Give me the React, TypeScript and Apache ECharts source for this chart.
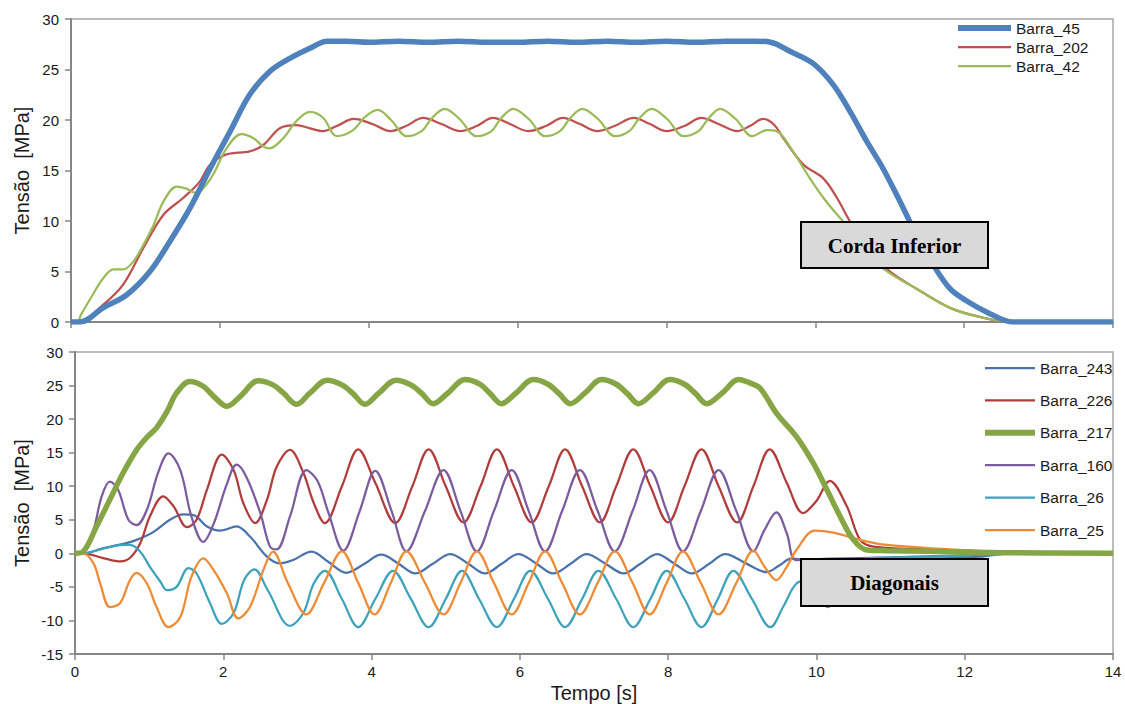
import React, { useEffect, useRef } from "react";
import * as echarts from "echarts";

// ---------- data (t [s], tensão [MPa]) ----------
const xTicks = [0, 2, 4, 6, 8, 10, 12, 14];

const barra45: number[][] = [
  [0, 0], [0.12, 0], [0.43, 1.4], [0.75, 2.7], [1.06, 5.0], [1.33, 8.0], [1.6, 11.3], [1.87, 15.2],
  [2.14, 18.9], [2.4, 22.5], [2.67, 24.8], [2.94, 26.1], [3.21, 27.1], [3.44, 27.8], [3.7, 27.8],
  [4.0, 27.7], [4.4, 27.8], [4.8, 27.7], [5.2, 27.8], [5.6, 27.7], [6.0, 27.7], [6.4, 27.8], [6.8, 27.7],
  [7.2, 27.8], [7.6, 27.7], [8.0, 27.8], [8.4, 27.7], [8.8, 27.8], [9.2, 27.8], [9.4, 27.7], [9.66, 26.8],
  [9.97, 25.6], [10.24, 23.5], [10.47, 20.8], [10.69, 17.9], [10.91, 15.2], [11.14, 11.9], [11.36, 8.6],
  [11.59, 5.6], [11.81, 3.3], [12.03, 2.1], [12.3, 1.0], [12.66, 0], [14, 0],
];

const barra202: number[][] = [
  [0, 0], [0.1, 0], [0.43, 1.7], [0.7, 3.7], [0.97, 7.3], [1.24, 10.6], [1.51, 12.3], [1.73, 13.9],
  [1.87, 15.6], [2.09, 16.6], [2.4, 16.9], [2.58, 17.5], [2.81, 19.2], [3.03, 19.5], [3.2, 19.2],
  [3.39, 18.9], [3.57, 19.4], [3.8, 20.1], [4.05, 19.6], [4.29, 18.9], [4.5, 19.4], [4.73, 20.2],
  [4.98, 19.6], [5.23, 18.9], [5.45, 19.4], [5.67, 20.2], [5.9, 19.6], [6.14, 18.9], [6.38, 19.4],
  [6.61, 20.2], [6.84, 19.6], [7.07, 18.9], [7.3, 19.4], [7.56, 20.2], [7.78, 19.6], [8.0, 18.9],
  [8.24, 19.4], [8.47, 20.2], [8.7, 19.6], [8.95, 18.9], [9.12, 19.4], [9.3, 20.1], [9.45, 19.5],
  [9.57, 18.2], [9.84, 15.6], [10.11, 14.2], [10.29, 12.3], [10.47, 9.9], [10.7, 7.2], [11.0, 5.0],
  [11.36, 3.3], [11.81, 1.4], [12.21, 0.5], [12.62, 0], [14, 0],
];

const barra42: number[][] = [
  [0, 0], [0.08, 0], [0.14, 0.8], [0.26, 2.3], [0.43, 4.3], [0.57, 5.2], [0.7, 5.2], [0.84, 6.0],
  [0.97, 7.6], [1.11, 9.6], [1.24, 11.9], [1.42, 13.4], [1.55, 13.2], [1.67, 12.8], [1.76, 13.1],
  [1.91, 14.6], [2.09, 17.2], [2.29, 18.6], [2.45, 18.2], [2.58, 17.4], [2.67, 17.2], [2.85, 18.2],
  [3.03, 19.9], [3.21, 20.8], [3.39, 20.2], [3.57, 18.4], [3.79, 19.0], [3.95, 20.3], [4.12, 21.0],
  [4.3, 20.0], [4.51, 18.4], [4.71, 18.9], [4.85, 20.2], [5.02, 21.1], [5.22, 20.1], [5.45, 18.4],
  [5.65, 18.9], [5.78, 20.2], [5.94, 21.1], [6.15, 20.1], [6.37, 18.4], [6.57, 18.9], [6.71, 20.2],
  [6.87, 21.1], [7.08, 20.1], [7.31, 18.4], [7.5, 18.9], [7.64, 20.2], [7.8, 21.1], [8.01, 20.1],
  [8.23, 18.4], [8.43, 18.9], [8.57, 20.2], [8.72, 21.1], [8.93, 20.1], [9.15, 18.4], [9.35, 19.0],
  [9.48, 18.9], [9.7, 16.9], [9.93, 14.2], [10.15, 11.9], [10.38, 9.9], [10.65, 7.5], [10.91, 5.3],
  [11.36, 3.3], [11.81, 1.4], [12.21, 0.5], [12.66, 0], [14, 0],
];

const barra243: number[][] = [
  [0, 0], [0.11, 0], [0.38, 0.75], [0.65, 1.4], [0.83, 2.0], [1.06, 3.2], [1.28, 5.0], [1.46, 5.8],
  [1.6, 5.7], [1.78, 4.0], [1.96, 3.4], [2.18, 4.0], [2.36, 2.5], [2.59, -0.5], [2.76, -1.5],
  [2.94, -1.0], [3.19, 0.25], [3.42, -1.3], [3.66, -2.9], [3.9, -1.6], [4.13, -0.2], [4.36, -1.5],
  [4.59, -3.0], [4.82, -1.6], [5.06, -0.1], [5.3, -1.5], [5.53, -3.0], [5.75, -1.6], [5.98, -0.1],
  [6.22, -1.5], [6.45, -3.0], [6.68, -1.6], [6.9, -0.1], [7.15, -1.5], [7.4, -3.0], [7.62, -1.6],
  [7.85, -0.1], [8.08, -1.5], [8.32, -3.0], [8.55, -1.6], [8.77, -0.1], [9.05, -1.5], [9.33, -2.8],
  [9.5, -1.8], [9.66, -0.8], [9.9, -1.0], [10.5, -0.9], [11.5, -0.8], [12.2, -0.5], [12.6, 0], [14, 0],
];

const barra226: number[][] = [
  [0, 0], [0.11, 0], [0.38, -0.7], [0.61, -1.2], [0.74, -0.7], [0.88, 1.5], [1.01, 5.5], [1.19, 8.5],
  [1.33, 7.0], [1.51, 3.9], [1.64, 5.0], [1.78, 9.5], [1.98, 14.7], [2.14, 12.4], [2.27, 7.5],
  [2.43, 4.5], [2.59, 8.0], [2.72, 12.9], [2.9, 15.4], [3.08, 12.0], [3.22, 7.5], [3.37, 4.5],
  [3.6, 10.0], [3.82, 15.5], [4.05, 10.5], [4.32, 4.5], [4.55, 10.0], [4.77, 15.5], [5.0, 10.0],
  [5.24, 4.6], [5.47, 10.0], [5.69, 15.5], [5.92, 10.0], [6.16, 4.6], [6.39, 10.0], [6.61, 15.5],
  [6.84, 10.0], [7.08, 4.6], [7.3, 10.0], [7.53, 15.5], [7.76, 10.0], [8.0, 4.6], [8.22, 10.0],
  [8.45, 15.5], [8.68, 10.0], [8.93, 4.6], [9.15, 10.0], [9.37, 15.5], [9.6, 10.5], [9.82, 6.0],
  [10.0, 7.8], [10.18, 10.8], [10.41, 7.0], [10.59, 2.0], [10.77, 1.0], [11.5, 0.6], [12.5, 0.2],
  [13, 0], [14, 0],
];

const barra217: number[][] = [
  [0, 0], [0.11, 0.25], [0.29, 4.0], [0.47, 8.0], [0.65, 12.0], [0.83, 15.4], [0.97, 17.3],
  [1.1, 18.7], [1.24, 21.1], [1.37, 23.9], [1.55, 25.6], [1.73, 24.9], [1.87, 23.4], [2.05, 21.9],
  [2.23, 23.4], [2.47, 25.7], [2.67, 25.1], [2.81, 23.9], [2.99, 22.2], [3.17, 23.9], [3.4, 25.8],
  [3.6, 25.1], [3.75, 23.8], [3.91, 22.2], [4.1, 23.9], [4.33, 25.8], [4.53, 25.1], [4.68, 23.8],
  [4.83, 22.3], [5.03, 23.9], [5.26, 25.9], [5.46, 25.2], [5.6, 23.8], [5.75, 22.3], [5.95, 23.9],
  [6.18, 25.9], [6.38, 25.2], [6.53, 23.8], [6.68, 22.3], [6.88, 23.9], [7.1, 25.9], [7.3, 25.2],
  [7.45, 23.8], [7.6, 22.3], [7.8, 23.9], [8.02, 25.9], [8.22, 25.2], [8.37, 23.8], [8.52, 22.3],
  [8.73, 23.9], [8.95, 25.9], [9.1, 25.4], [9.24, 24.6], [9.46, 20.9], [9.73, 17.4], [9.96, 13.4],
  [10.14, 9.5], [10.32, 5.5], [10.5, 2.0], [10.68, 0.5], [10.95, 0.4], [11.5, 0.3], [12.5, 0.1],
  [14, 0],
];

const barra160: number[][] = [
  [0, 0], [0.11, 0.2], [0.25, 3.5], [0.36, 8.5], [0.47, 10.7], [0.58, 9.5], [0.72, 5.0], [0.83, 4.2],
  [0.97, 6.5], [1.12, 12.0], [1.26, 14.9], [1.42, 12.4], [1.57, 5.5], [1.73, 1.7], [1.87, 4.4],
  [2.05, 10.4], [2.18, 13.2], [2.31, 11.4], [2.5, 6.0], [2.63, 1.0], [2.72, 0.6], [2.9, 5.5],
  [3.12, 12.4], [3.27, 10.8], [3.42, 6.0], [3.62, 0.4], [3.84, 6.3], [4.05, 12.3], [4.27, 6.3],
  [4.47, 0.3], [4.72, 6.3], [4.97, 12.4], [5.2, 6.3], [5.42, 0.3], [5.65, 6.3], [5.89, 12.4],
  [6.12, 6.3], [6.34, 0.3], [6.57, 6.3], [6.81, 12.4], [7.05, 6.3], [7.28, 0.3], [7.52, 6.3],
  [7.75, 12.4], [7.98, 6.3], [8.2, 0.3], [8.44, 6.3], [8.68, 12.4], [8.92, 6.3], [9.15, 0.3],
  [9.3, 3.5], [9.46, 6.1], [9.6, 3.0], [9.73, -1.0], [10.2, -0.8], [11, -0.6], [12, -0.3], [13, 0],
  [14, 0],
];

const barra26: number[][] = [
  [0, 0], [0.11, 0], [0.38, 0.7], [0.65, 1.25], [0.74, 1.25], [0.88, 0.25], [1.01, -2.0],
  [1.15, -4.2], [1.24, -5.5], [1.37, -5.0], [1.53, -2.2], [1.64, -3.0], [1.82, -7.4], [1.98, -10.5],
  [2.14, -8.9], [2.28, -4.0], [2.42, -2.4], [2.6, -5.5], [2.9, -10.8], [3.08, -8.9], [3.22, -4.5],
  [3.37, -2.6], [3.6, -6.8], [3.82, -11.0], [4.05, -6.8], [4.29, -2.6], [4.53, -6.8], [4.77, -11.0],
  [5.0, -6.8], [5.22, -2.6], [5.45, -6.8], [5.69, -11.0], [5.92, -6.8], [6.14, -2.6], [6.38, -6.8],
  [6.61, -11.0], [6.84, -6.8], [7.06, -2.6], [7.3, -6.8], [7.53, -11.0], [7.76, -6.8], [7.98, -2.6],
  [8.22, -6.8], [8.45, -11.0], [8.67, -6.8], [8.88, -2.6], [9.13, -6.8], [9.38, -11.0], [9.55, -8.0],
  [9.73, -4.5], [9.9, -4.0], [10.15, -8.0], [10.45, -2.5], [10.7, -0.7], [11.5, -0.5], [12.3, -0.2],
  [12.7, 0], [14, 0],
];

const barra25: number[][] = [
  [0, 0], [0.11, 0], [0.25, -1.5], [0.34, -4.5], [0.47, -8.0], [0.61, -7.4], [0.74, -4.0],
  [0.83, -2.9], [0.97, -4.5], [1.1, -8.0], [1.26, -11.0], [1.42, -9.5], [1.57, -3.5], [1.73, -0.75],
  [1.87, -2.5], [2.05, -6.0], [2.2, -9.7], [2.36, -8.0], [2.54, -2.5], [2.67, 0.25], [2.87, -4.4],
  [3.12, -9.1], [3.36, -4.4], [3.6, 0.3], [3.82, -4.4], [4.04, -9.1], [4.26, -4.4], [4.47, 0.3],
  [4.72, -4.4], [4.97, -9.1], [5.2, -4.4], [5.42, 0.3], [5.65, -4.4], [5.89, -9.1], [6.12, -4.4],
  [6.34, 0.3], [6.57, -4.4], [6.81, -9.1], [7.05, -4.4], [7.28, 0.3], [7.52, -4.4], [7.75, -9.1],
  [7.98, -4.4], [8.2, 0.3], [8.44, -4.4], [8.68, -9.1], [8.92, -4.4], [9.15, 0.4], [9.3, -2.0],
  [9.46, -4.0], [9.6, -2.0], [9.73, 0.5], [9.98, 3.4], [10.23, 3.1], [10.59, 2.0], [10.95, 1.25],
  [11.8, 0.6], [12.2, 0.3], [12.8, 0], [14, 0],
];

const topNames = ["Barra_45", "Barra_202", "Barra_42"];
const bottomNames = ["Barra_243", "Barra_226", "Barra_217", "Barra_160", "Barra_26", "Barra_25"];
const yLabel = "Tensão  [MPa]";
const xLabel = "Tempo [s]";
const topBoxLabel = "Corda Inferior";
const bottomBoxLabel = "Diagonais";

const SANS = '"Liberation Sans", Arial, sans-serif';
const SERIF = '"Liberation Serif", "Times New Roman", serif';

export default function App() {
  const ref = useRef<HTMLDivElement>(null);

  useEffect(() => {
    if (!ref.current) return;
    const chart = echarts.init(ref.current, undefined, { renderer: "svg" });

    const axisLine = { show: true, onZero: false, lineStyle: { color: "#868686", width: 2 } };
    const axisTick = { show: true, length: 6, lineStyle: { color: "#868686", width: 1.5 } };
    const labelStyle = { fontFamily: SANS, fontSize: 15, color: "#1a1a1a" };

    const THICK = 5.5;
    const THIN = 2.25;
    const thickNames = ["Barra_45", "Barra_217"];

    const line = (
      name: string,
      data: number[][],
      color: string,
      idx: number
    ) => {
      const thick = thickNames.includes(name);
      return {
        name,
        type: "line",
        data,
        xAxisIndex: idx,
        yAxisIndex: idx,
        showSymbol: false,
        symbol: "none",
        smooth: 0.35,
        z: thick ? 3 : 2,
        lineStyle: { color, width: thick ? THICK : THIN },
        itemStyle: { color },
      };
    };

    const C: Record<string, string> = {
      Barra_45: "#4f81bd",
      Barra_202: "#c0504d",
      Barra_42: "#9bbb59",
      Barra_243: "#4a73ad",
      Barra_226: "#b03d3b",
      Barra_217: "#86a544",
      Barra_160: "#7a5c9f",
      Barra_26: "#3da2bb",
      Barra_25: "#ef8b35",
    };

    const legendItems = (names: string[]) =>
      names.map((n) => ({
        name: n,
        lineStyle: { color: C[n], width: thickNames.includes(n) ? 6 : THIN },
      }));

    const legendCommon = {
      orient: "vertical",
      padding: 0,
      itemHeight: 14,
      itemStyle: { opacity: 0, borderWidth: 0 },
      textStyle: { fontFamily: SANS, fontSize: 15.5, color: "#1a1a1a", lineHeight: 15 },
    };

    const option: any = {
      animation: false,
      backgroundColor: "#ffffff",
      grid: [
        { left: 71, right: 12, top: 19, height: 303, show: true, borderColor: "#a6a6a6", borderWidth: 1.5 },
        { left: 75, right: 12, top: 352, height: 302, show: true, borderColor: "#a6a6a6", borderWidth: 1.5 },
      ],
      xAxis: [0, 1].map((i) => ({
        type: "value",
        gridIndex: i,
        min: xTicks[0],
        max: xTicks[xTicks.length - 1],
        interval: 2,
        axisLine,
        axisTick,
        splitLine: { show: false },
        axisLabel: { show: i === 1, margin: 10, ...labelStyle },
      })),
      yAxis: [
        {
          type: "value",
          gridIndex: 0,
          min: 0,
          max: 30,
          interval: 5,
          axisLine,
          axisTick,
          splitLine: { show: false },
          axisLabel: { margin: 12, ...labelStyle },
        },
        {
          type: "value",
          gridIndex: 1,
          min: -15,
          max: 30,
          interval: 5,
          axisLine,
          axisTick,
          splitLine: { show: false },
          axisLabel: { margin: 12, ...labelStyle },
        },
      ],
      legend: [
        {
          ...legendCommon,
          left: 955,
          top: 20,
          itemWidth: 53,
          itemGap: 3,
          itemTextGap: 4,
          data: legendItems(topNames),
        },
        {
          ...legendCommon,
          left: 982,
          top: 360,
          itemWidth: 50,
          itemGap: 16.4,
          itemTextGap: 5,
          data: legendItems(bottomNames),
        },
      ],
      series: [
        line("Barra_45", barra45, C.Barra_45, 0),
        line("Barra_202", barra202, C.Barra_202, 0),
        line("Barra_42", barra42, C.Barra_42, 0),
        line("Barra_243", barra243, C.Barra_243, 1),
        line("Barra_226", barra226, C.Barra_226, 1),
        line("Barra_217", barra217, C.Barra_217, 1),
        line("Barra_160", barra160, C.Barra_160, 1),
        line("Barra_26", barra26, C.Barra_26, 1),
        line("Barra_25", barra25, C.Barra_25, 1),
      ],
      graphic: [
        {
          type: "text",
          x: 22,
          y: 170.5,
          rotation: Math.PI / 2,
          z: 100,
          style: { text: yLabel, fontFamily: SANS, fontSize: 20, fill: "#1a1a1a", align: "center", verticalAlign: "middle" },
        },
        {
          type: "text",
          x: 22,
          y: 503,
          rotation: Math.PI / 2,
          z: 100,
          style: { text: yLabel, fontFamily: SANS, fontSize: 20, fill: "#1a1a1a", align: "center", verticalAlign: "middle" },
        },
        {
          type: "text",
          x: 594,
          y: 693,
          z: 100,
          style: { text: xLabel, fontFamily: SANS, fontSize: 20, fill: "#1a1a1a", align: "center", verticalAlign: "middle" },
        },
        {
          type: "group",
          z: 100,
          children: [
            {
              type: "rect",
              z: 100,
              shape: { x: 801, y: 222, width: 187, height: 46 },
              style: { fill: "#d9d9d9", stroke: "#000000", lineWidth: 2 },
            },
            {
              type: "text",
              z: 101,
              x: 894.5,
              y: 246,
              style: { text: topBoxLabel, fontFamily: SERIF, fontWeight: "bold", fontSize: 21, fill: "#000", align: "center", verticalAlign: "middle" },
            },
            {
              type: "rect",
              z: 100,
              shape: { x: 801, y: 559, width: 187, height: 47 },
              style: { fill: "#d9d9d9", stroke: "#000000", lineWidth: 2 },
            },
            {
              type: "text",
              z: 101,
              x: 894.5,
              y: 583,
              style: { text: bottomBoxLabel, fontFamily: SERIF, fontWeight: "bold", fontSize: 21, fill: "#000", align: "center", verticalAlign: "middle" },
            },
          ],
        },
      ],
    };

    chart.setOption(option);
    return () => chart.dispose();
  }, []);

  return (
    <div
      ref={ref}
      style={{ position: "fixed", left: 0, top: 0, width: 1125, height: 704, background: "#fff" }}
    />
  );
}
